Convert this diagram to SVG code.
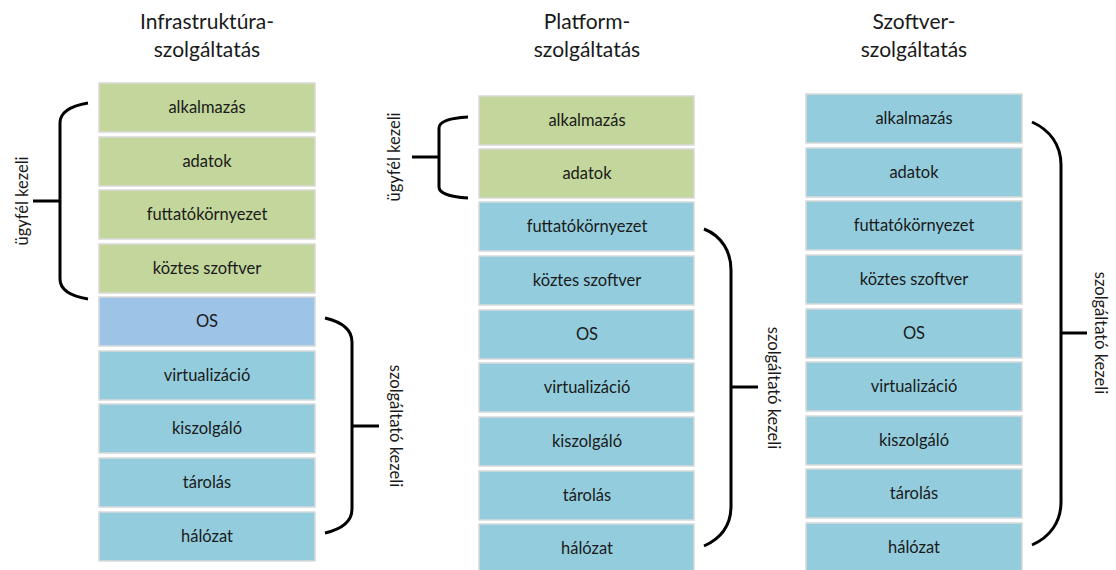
<svg xmlns="http://www.w3.org/2000/svg" width="1116" height="570" viewBox="0 0 1116 570">
<style>
  .box rect { stroke: #d9d9d9; stroke-width: 1.5; }
  .g rect { fill: #c3d69b; }
  .b rect { fill: #93cddd; }
  .os rect { fill: #9dc3e6; }
  .box text { font-family: Lato, "Open Sans", sans-serif; font-size: 16.5px; fill: #1a1a1a; text-anchor: middle; }
  .title { font-family: Lato, "Open Sans", sans-serif; font-size: 21px; fill: #1a1a1a; text-anchor: middle; }
  .lbl { font-family: Lato, "Open Sans", sans-serif; font-size: 16.5px; fill: #1a1a1a; text-anchor: middle; }
  .brace { fill: none; stroke: #000; stroke-width: 3; stroke-linecap: butt; }
</style>
<rect width="1116" height="570" fill="#ffffff"/>

<g id="titles">
  <text class="title" x="207" y="29">Infrastruktúra-</text>
  <text class="title" x="207" y="57">szolgáltatás</text>
  <text class="title" x="587" y="29">Platform-</text>
  <text class="title" x="587" y="57">szolgáltatás</text>
  <text class="title" x="914" y="29">Szoftver-</text>
  <text class="title" x="914" y="57">szolgáltatás</text>
</g>

<!-- Column 1: IaaS -->
<g id="iaas-alkalmazas" class="box g"><rect x="99" y="83" width="216" height="49"/><text x="207" y="113">alkalmazás</text></g>
<g id="iaas-adatok" class="box g"><rect x="99" y="137" width="216" height="49"/><text x="207" y="167">adatok</text></g>
<g id="iaas-futtato" class="box g"><rect x="99" y="190" width="216" height="49"/><text x="207" y="220">futtatókörnyezet</text></g>
<g id="iaas-koztes" class="box g"><rect x="99" y="244" width="216" height="49"/><text x="207" y="274">köztes szoftver</text></g>
<g id="iaas-os" class="box os"><rect x="99" y="297" width="216" height="49"/><text x="207" y="327">OS</text></g>
<g id="iaas-virt" class="box b"><rect x="99" y="351" width="216" height="49"/><text x="207" y="381">virtualizáció</text></g>
<g id="iaas-kiszolgalo" class="box b"><rect x="99" y="404" width="216" height="49"/><text x="207" y="434">kiszolgáló</text></g>
<g id="iaas-tarolas" class="box b"><rect x="99" y="458" width="216" height="49"/><text x="207" y="488">tárolás</text></g>
<g id="iaas-halozat" class="box b"><rect x="99" y="512" width="216" height="49"/><text x="207" y="542">hálózat</text></g>

<!-- Column 2: PaaS -->
<g id="paas-alkalmazas" class="box g"><rect x="479" y="96" width="215" height="49"/><text x="587" y="126">alkalmazás</text></g>
<g id="paas-adatok" class="box g"><rect x="479" y="149" width="215" height="49"/><text x="587" y="179">adatok</text></g>
<g id="paas-futtato" class="box b"><rect x="479" y="202" width="215" height="49"/><text x="587" y="232">futtatókörnyezet</text></g>
<g id="paas-koztes" class="box b"><rect x="479" y="256" width="215" height="49"/><text x="587" y="286">köztes szoftver</text></g>
<g id="paas-os" class="box b"><rect x="479" y="310" width="215" height="49"/><text x="587" y="340">OS</text></g>
<g id="paas-virt" class="box b"><rect x="479" y="363" width="215" height="49"/><text x="587" y="393">virtualizáció</text></g>
<g id="paas-kiszolgalo" class="box b"><rect x="479" y="417" width="215" height="49"/><text x="587" y="447">kiszolgáló</text></g>
<g id="paas-tarolas" class="box b"><rect x="479" y="471" width="215" height="49"/><text x="587" y="501">tárolás</text></g>
<g id="paas-halozat" class="box b"><rect x="479" y="524" width="215" height="49"/><text x="587" y="554">hálózat</text></g>

<!-- Column 3: SaaS -->
<g id="saas-alkalmazas" class="box b"><rect x="806" y="94" width="216" height="49"/><text x="914" y="124">alkalmazás</text></g>
<g id="saas-adatok" class="box b"><rect x="806" y="148" width="216" height="49"/><text x="914" y="178">adatok</text></g>
<g id="saas-futtato" class="box b"><rect x="806" y="201" width="216" height="49"/><text x="914" y="231">futtatókörnyezet</text></g>
<g id="saas-koztes" class="box b"><rect x="806" y="255" width="216" height="49"/><text x="914" y="285">köztes szoftver</text></g>
<g id="saas-os" class="box b"><rect x="806" y="309" width="216" height="49"/><text x="914" y="339">OS</text></g>
<g id="saas-virt" class="box b"><rect x="806" y="362" width="216" height="49"/><text x="914" y="392">virtualizáció</text></g>
<g id="saas-kiszolgalo" class="box b"><rect x="806" y="416" width="216" height="49"/><text x="914" y="446">kiszolgáló</text></g>
<g id="saas-tarolas" class="box b"><rect x="806" y="469" width="216" height="49"/><text x="914" y="499">tárolás</text></g>
<g id="saas-halozat" class="box b"><rect x="806" y="523" width="216" height="49"/><text x="914" y="553">hálózat</text></g>

<!-- Braces -->
<g id="connectors">
  <path class="brace" d="M88,103 C70,106 60,112 60,123 L60,279 C60,290 70,296 88,299 M60,201 L33,201"/>
  <path class="brace" d="M325,318 C342,322 352,330 352,342 L352,509 C352,521 342,529 325,533 M352,426 L379,426"/>
  <path class="brace" d="M468,117 C450,118 439,121 439,128 L439,187 C439,193 450,197 468,198 M439,157 L412,157"/>
  <path class="brace" d="M704,229 C722,236 731,252 731,270 L731,506 C731,524 722,538 704,546 M731,387 L758,387"/>
  <path class="brace" d="M1032,122 C1050,130 1061,145 1061,165 L1061,502 C1061,522 1050,537 1032,545 M1061,333 L1087,333"/>
</g>

<g id="labels">
  <text class="lbl" transform="translate(23,201) rotate(-90)" y="5">ügyfél kezeli</text>
  <text class="lbl" transform="translate(395,426) rotate(90)" y="5">szolgáltató kezeli</text>
  <text class="lbl" transform="translate(395,157) rotate(-90)" y="5">ügyfél kezeli</text>
  <text class="lbl" transform="translate(773,388) rotate(90)" y="5">szolgáltató kezeli</text>
  <text class="lbl" transform="translate(1100,333) rotate(90)" y="5">szolgáltató kezeli</text>
</g>
</svg>
